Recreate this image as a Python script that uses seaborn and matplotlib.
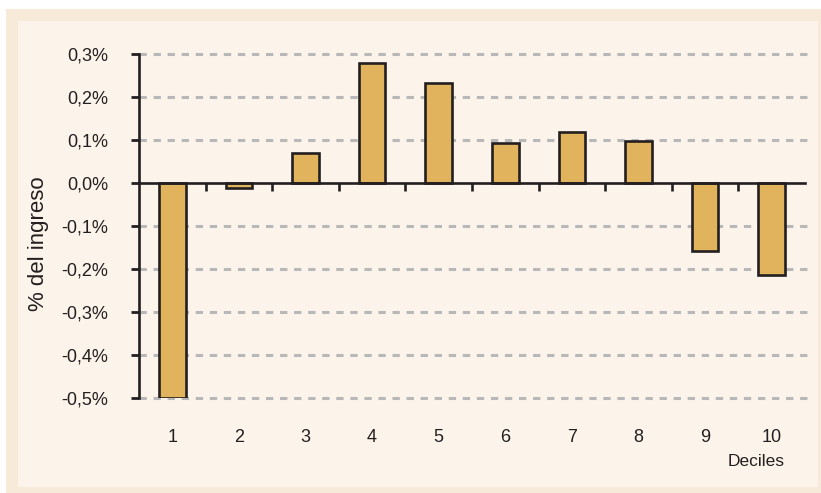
import matplotlib
matplotlib.use("Agg")
import matplotlib.pyplot as plt
from matplotlib.patches import Rectangle
from matplotlib.transforms import blended_transform_factory
import seaborn as sns

# data
deciles = ["1", "2", "3", "4", "5", "6", "7", "8", "9", "10"]
values = [-0.50, -0.012, 0.07, 0.28, 0.233, 0.094, 0.119, 0.098, -0.159, -0.213]
yticks = [0.3, 0.2, 0.1, 0.0, -0.1, -0.2, -0.3, -0.4, -0.5]
ytick_labels = ["0,3%", "0,2%", "0,1%", "0,0%", "-0,1%", "-0,2%", "-0,3%", "-0,4%", "-0,5%"]

sns.set_style("white")
plt.rcParams["font.family"] = ["Liberation Sans", "DejaVu Sans"]

W, H = 821, 493
fig = plt.figure(figsize=(W / 100, H / 100), dpi=100)
fig.patch.set_facecolor("white")

# background frame (drawn below the axes)
fig.patches.append(Rectangle((6 / W, 0), (W - 6) / W, (H - 9) / H,
                             transform=fig.transFigure, facecolor="#f7ead8",
                             edgecolor="none", zorder=-2))
fig.patches.append(Rectangle((18 / W, 6 / H), (818 - 18) / W, (487 - 21) / H,
                             transform=fig.transFigure, facecolor="#fcf4ea",
                             edgecolor="none", zorder=-1))

ax = fig.add_axes([139 / W, (H - 398) / H, (805 - 139) / W, (398 - 54) / H])
ax.set_facecolor("none")

sns.barplot(x=deciles, y=values, order=deciles, width=0.4, color="#e1b35d",
            saturation=1, edgecolor="#231f20", linewidth=1.9, ax=ax, zorder=3)

ax.set_xlim(-0.5, 9.5)
ax.set_ylim(-0.5, 0.3)

# dashed grid
for y in yticks:
    if y != 0:
        ax.axhline(y, color="#b8b8b8", lw=2.2, ls=(0, (2.4, 2.2)), zorder=1,
                   xmax=1.005, clip_on=False)

for s in ["top", "right"]:
    ax.spines[s].set_visible(False)
ax.spines["left"].set_linewidth(1.9)
ax.spines["left"].set_color("#231f20")
ax.spines["bottom"].set_position(("data", 0))
ax.spines["bottom"].set_linewidth(1.9)
ax.spines["bottom"].set_color("#231f20")
ax.spines["bottom"].set_zorder(4)

ax.set_yticks(yticks)
ax.set_yticklabels(ytick_labels, fontsize=13, color="#231f20")
ax.tick_params(axis="y", length=6, width=2, color="#231f20", pad=16, left=True)

# x ticks between categories, labels below the plot
ax.set_xticks([i + 0.5 for i in range(len(deciles) - 1)])
ax.set_xticklabels([])
ax.tick_params(axis="x", direction="out", length=6, width=1.9, color="#231f20", bottom=True)
trans = blended_transform_factory(ax.transData, ax.transAxes)
for i, d in enumerate(deciles):
    ax.text(i, -0.115, d, transform=trans, ha="center", va="center",
            fontsize=13, color="#231f20")
ax.text(8.77, -0.186, "Deciles", transform=trans, ha="center", va="center",
        fontsize=12.5, color="#231f20")

ax.set_xlabel("")
ax.set_ylabel("% del ingreso", fontsize=16, color="#231f20")
ax.yaxis.set_label_coords((39 - 139) / 666, (398 - 244) / 344)
ax.yaxis.label.set_va("center")

fig.savefig("out.png", dpi=100, facecolor=fig.get_facecolor())
